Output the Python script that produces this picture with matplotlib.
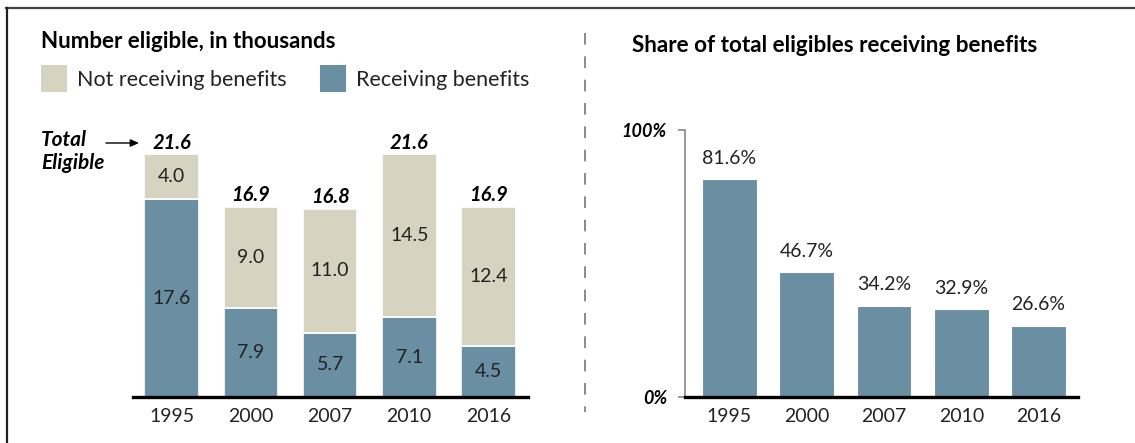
import matplotlib
matplotlib.use("Agg")
import matplotlib.pyplot as plt
from matplotlib.lines import Line2D
from matplotlib.patches import Rectangle, FancyArrowPatch

plt.rcParams['font.family'] = ['Lato', 'DejaVu Sans']

years = ["1995", "2000", "2007", "2010", "2016"]
receiving = [17.6, 7.9, 5.7, 7.1, 4.5]
not_receiving = [4.0, 9.0, 11.0, 14.5, 12.4]
totals = [21.6, 16.9, 16.8, 21.6, 16.9]
share = [81.6, 46.7, 34.2, 32.9, 26.6]

C_REC = "#6a8fa3"
C_NOT = "#d6d4c1"
TXT = "#222222"

W, H = 1135, 443
fig = plt.figure(figsize=(W / 100, H / 100), dpi=100)

def fx(px):
    return px / W

def fy(py):
    return 1 - py / H

VAL_FS = 14
# ---------- left chart ----------
axL = fig.add_axes([fx(133), fy(397), fx(528) - fx(133), fy(127) - fy(397)])
x = list(range(len(years)))
axL.bar(x, receiving, width=0.69, color=C_REC, edgecolor="white", linewidth=1.2)
axL.bar(x, not_receiving, bottom=receiving, width=0.69, color=C_NOT,
        edgecolor="white", linewidth=1.2)
axL.set_xlim(-0.49, 4.5)
axL.set_ylim(0, 24)
for i in x:
    axL.text(i, receiving[i] / 2, f"{receiving[i]:.1f}", ha="center", va="center",
             fontsize=VAL_FS, color=TXT)
    axL.text(i, receiving[i] + not_receiving[i] / 2, f"{not_receiving[i]:.1f}",
             ha="center", va="center", fontsize=VAL_FS, color=TXT)
    axL.annotate(f"{totals[i]:.1f}", (i, totals[i]), xytext=(0, 1),
                 textcoords="offset points", ha="center", va="bottom",
                 fontsize=14.5, fontweight="bold", fontstyle="italic", color="black")
for s in ["top", "right", "left"]:
    axL.spines[s].set_visible(False)
axL.spines["bottom"].set_linewidth(2.4)
axL.spines["bottom"].set_color("black")
axL.set_yticks([])
axL.set_xticks(x)
axL.set_xticklabels(years, fontsize=VAL_FS, color=TXT)
axL.tick_params(axis="x", length=0, pad=8)

# ---------- right chart ----------
axR = fig.add_axes([fx(685), fy(397), fx(1078) - fx(685), fy(130) - fy(397)])
axR.bar(x, share, width=0.71, color=C_REC, edgecolor="white", linewidth=0.8)
axR.set_xlim(-0.576, 4.51)
axR.set_ylim(0, 100)
for i in x:
    axR.annotate(f"{share[i]:.1f}%", (i, share[i]), xytext=(0, 9),
                 textcoords="offset points", ha="center", va="bottom",
                 fontsize=VAL_FS, color=TXT)
for s in ["top", "right"]:
    axR.spines[s].set_visible(False)
axR.spines["bottom"].set_linewidth(2.4)
axR.spines["bottom"].set_color("black")
axR.spines["left"].set_color("#888888")
axR.spines["left"].set_linewidth(1.2)
axR.set_yticks([0, 100])
axR.set_yticklabels(["0%", "100%"], fontsize=13, fontweight="bold",
                    fontstyle="italic", color="black")
axR.tick_params(axis="y", length=5, color="#888888", width=1.2, pad=8)
axR.set_xticks(x)
axR.set_xticklabels(years, fontsize=VAL_FS, color=TXT)
axR.tick_params(axis="x", length=0, pad=8)

# ---------- titles & legend ----------
fig.text(fx(41), fy(41), "Number eligible, in thousands", fontsize=16,
         fontweight="bold", ha="left", va="center", color="black")
fig.text(fx(632), fy(45), "Share of total eligibles receiving benefits", fontsize=16.2,
         fontweight="bold", ha="left", va="center", color="black")

for (x0, col, lab) in [(41, C_NOT, "Not receiving benefits"),
                       (320, C_REC, "Receiving benefits")]:
    fig.patches.append(Rectangle((fx(x0), fy(92)), fx(26), fy(65) - fy(92),
                                 transform=fig.transFigure, facecolor=col,
                                 edgecolor="none"))
    fig.text(fx(x0 + 36), fy(80), lab, fontsize=15.5, ha="left", va="center",
             color=TXT)

# Total Eligible annotation
fig.text(fx(41), fy(140), "Total", fontsize=15, fontweight="bold",
         fontstyle="italic", ha="left", va="center")
fig.text(fx(41), fy(163), "Eligible", fontsize=15, fontweight="bold",
         fontstyle="italic", ha="left", va="center")
fig.add_artist(FancyArrowPatch(
    (fx(106), fy(143)), (fx(139), fy(143)), transform=fig.transFigure,
    arrowstyle="-|>,head_length=5,head_width=2.2", color="black", lw=1.0,
    shrinkA=0, shrinkB=0))

# divider
fig.add_artist(Line2D([fx(585), fx(585)], [fy(33), fy(412)], transform=fig.transFigure,
                      color="#8a8a8a", lw=1.4, linestyle=(0, (6, 6))))
# border
fig.add_artist(Line2D([fx(6), fx(1135)], [fy(8), fy(8)], transform=fig.transFigure,
                      color="#444444", lw=1.6))
fig.add_artist(Line2D([fx(7), fx(7)], [fy(8), fy(443)], transform=fig.transFigure,
                      color="#222222", lw=1.6))

fig.savefig("out.png", dpi=100)
